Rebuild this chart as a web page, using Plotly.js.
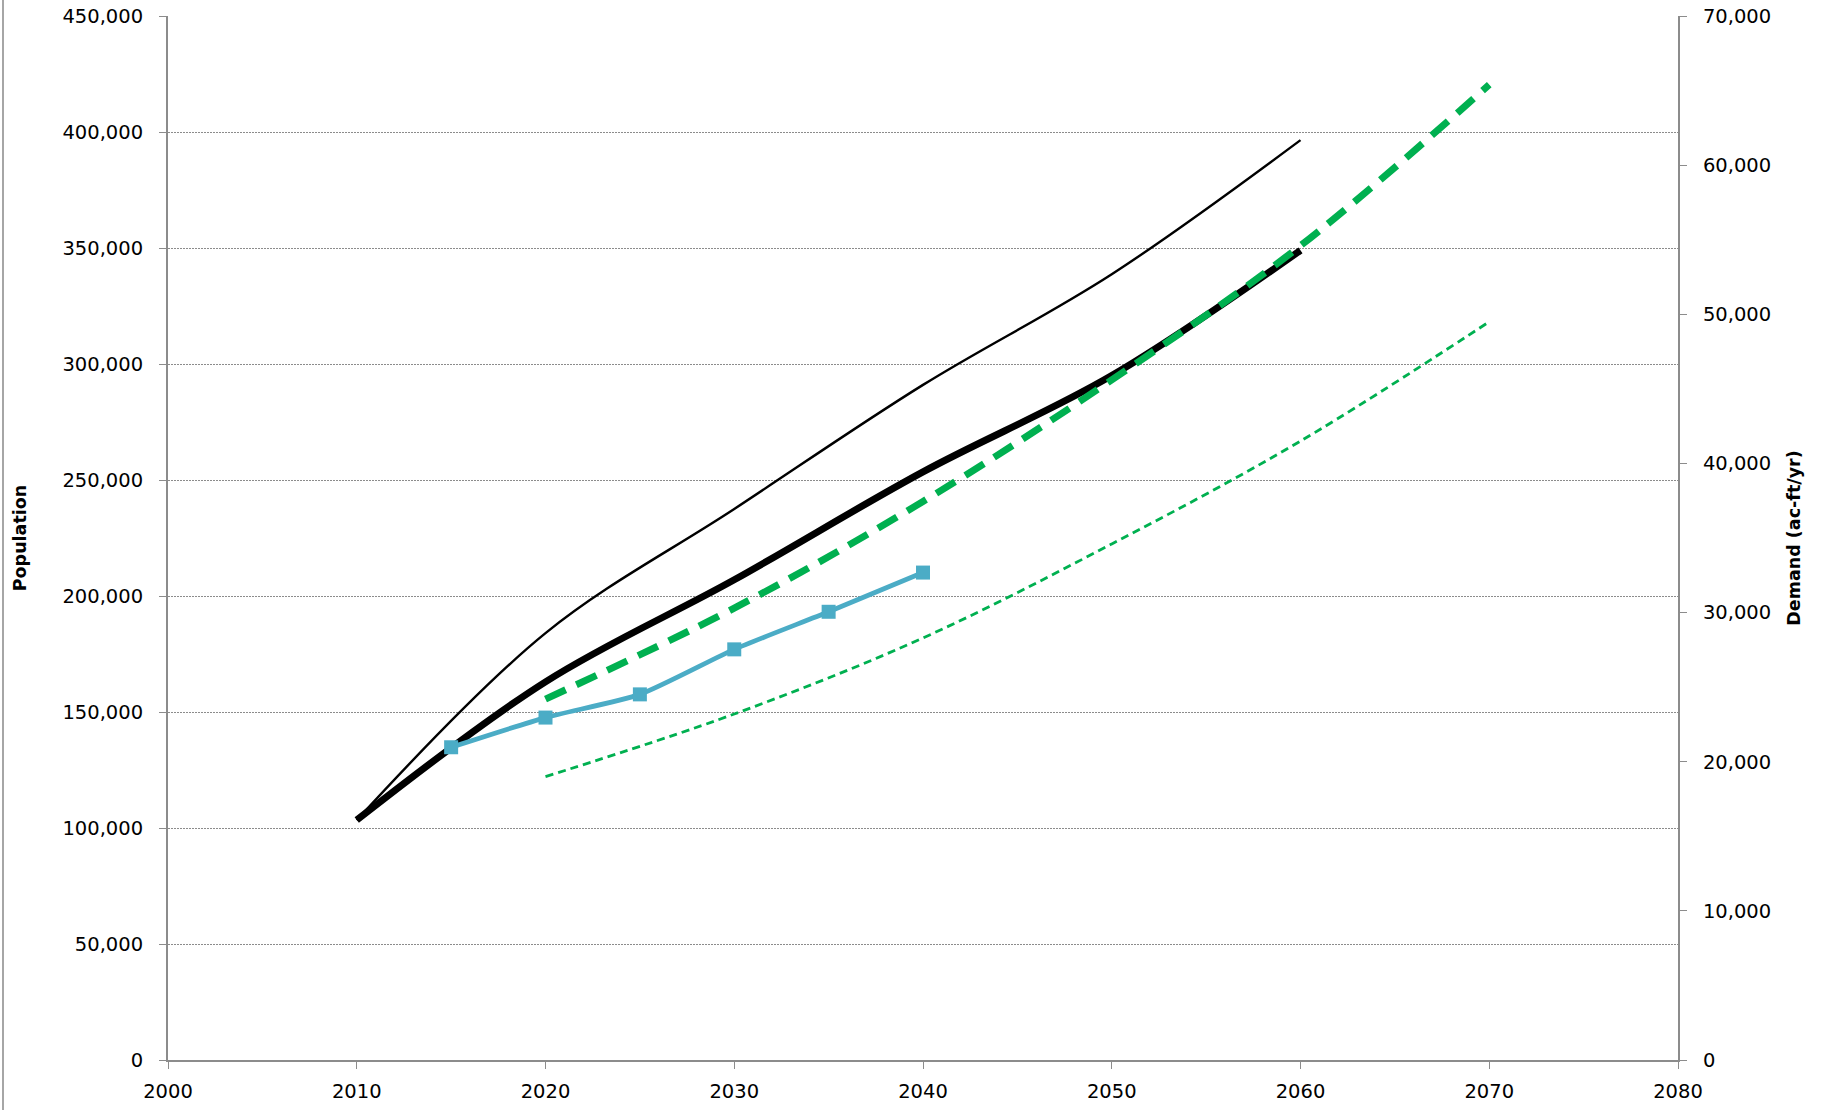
<!DOCTYPE html>
<html>
<head>
<meta charset="utf-8">
<script src="https://cdn.plot.ly/plotly-3.0.1.min.js"></script>
<style>
  html, body { margin: 0; padding: 0; background: #fff; }
  #wrap { position: relative; width: 1823px; height: 1110px; }
  #chart { position: absolute; left: 0; top: 0; width: 1823px; height: 1110px; }
  #frame { position: absolute; left: 2px; top: 0; width: 2px; height: 1110px; background: #a6a6a6; }
</style>
</head>
<body>
<div id="wrap"><div id="chart"></div><div id="frame"></div></div>
<script>
// Population series (left axis)
const yearsDecade = [2010, 2020, 2030, 2040, 2050, 2060];
const popHigh     = [103400, 184000, 237500, 291000, 338700, 396500];
const popBase     = [103400, 163000, 207000, 253500, 295000, 349000];

const yearsFive   = [2015, 2020, 2025, 2030, 2035, 2040];
const popEstimate = [134800, 147600, 157600, 177000, 193200, 210100];

// Demand series (right axis, ac-ft/yr)
const yearsDemand = [2020, 2030, 2040, 2050, 2060, 2070];
const demandHigh  = [24200, 30300, 37450, 45600, 54600, 65400];
const demandLow   = [19000, 23200, 28300, 34600, 41500, 49500];

// Axis ticks
const xTicks  = [2000, 2010, 2020, 2030, 2040, 2050, 2060, 2070, 2080];
const yTicks  = [0, 50000, 100000, 150000, 200000, 250000, 300000, 350000, 400000, 450000];
const y2Ticks = [0, 10000, 20000, 30000, 40000, 50000, 60000, 70000];

const tickFont = { family: 'DejaVu Sans, sans-serif', size: 19.5, color: '#000' };
const titleFont = { family: 'DejaVu Sans, sans-serif', size: 17.5, color: '#000', weight: 'bold' };
const axisGray = '#8c8c8c';

const traces = [
  { x: yearsDecade, y: popHigh, type: 'scatter', mode: 'lines', name: 'Population (high)',
    line: { color: '#000', width: 2.4, shape: 'spline', smoothing: 1 }, yaxis: 'y' },
  { x: yearsDecade, y: popBase, type: 'scatter', mode: 'lines', name: 'Population',
    line: { color: '#000', width: 7, shape: 'spline', smoothing: 1 }, yaxis: 'y' },
  { x: yearsFive, y: popEstimate, type: 'scatter', mode: 'lines+markers', name: 'Population estimate',
    line: { color: '#4BACC6', width: 4.8, shape: 'spline', smoothing: 0.6 },
    marker: { symbol: 'square', size: 14, color: '#4BACC6' }, yaxis: 'y' },
  { x: yearsDemand, y: demandLow, type: 'scatter', mode: 'lines', name: 'Demand (low)',
    line: { color: '#00B050', width: 2.8, dash: '8px,5px', shape: 'spline', smoothing: 1 }, yaxis: 'y2' },
  { x: yearsDemand, y: demandHigh, type: 'scatter', mode: 'lines', name: 'Demand (high)',
    line: { color: '#00B050', width: 7, dash: '22px,12px', shape: 'spline', smoothing: 1 }, yaxis: 'y2' }
];

const layout = {
  width: 1823, height: 1110,
  margin: { l: 168, r: 145, t: 16, b: 50, pad: 0 },
  paper_bgcolor: '#fff', plot_bgcolor: '#fff',
  showlegend: false,
  font: tickFont,
  xaxis: {
    range: [2000, 2080], tickmode: 'array', tickvals: xTicks, ticktext: xTicks.map(String),
    showgrid: false, zeroline: false,
    showline: true, linecolor: axisGray, linewidth: 2,
    ticks: 'outside', ticklen: 7, tickcolor: axisGray, tickwidth: 1,
    ticklabelstandoff: 6, tickfont: tickFont
  },
  yaxis: {
    range: [0, 450000], tickmode: 'array', tickvals: yTicks,
    ticktext: yTicks.map(v => v.toLocaleString('en-US')),
    showgrid: true, gridcolor: '#8c8c8c', gridwidth: 1, griddash: '1.5px,1.5px',
    zeroline: false,
    showline: true, linecolor: axisGray, linewidth: 2,
    ticks: 'outside', ticklen: 7, tickcolor: axisGray, tickwidth: 1,
    ticklabelstandoff: 12, tickfont: tickFont,
    title: { text: 'Population', font: titleFont, standoff: 31 }
  },
  yaxis2: {
    range: [0, 70000], overlaying: 'y', side: 'right', tickmode: 'array', tickvals: y2Ticks,
    ticktext: y2Ticks.map(v => v.toLocaleString('en-US')),
    showgrid: false, zeroline: false,
    showline: true, linecolor: axisGray, linewidth: 2,
    ticks: 'outside', ticklen: 7, tickcolor: axisGray, tickwidth: 1,
    ticklabelstandoff: 12, tickfont: tickFont,
    title: { text: 'Demand (ac-ft/yr)', font: titleFont, standoff: 18 }
  }
};

Plotly.newPlot('chart', traces, layout, { displayModeBar: false, staticPlot: true });
</script>
</body>
</html>
